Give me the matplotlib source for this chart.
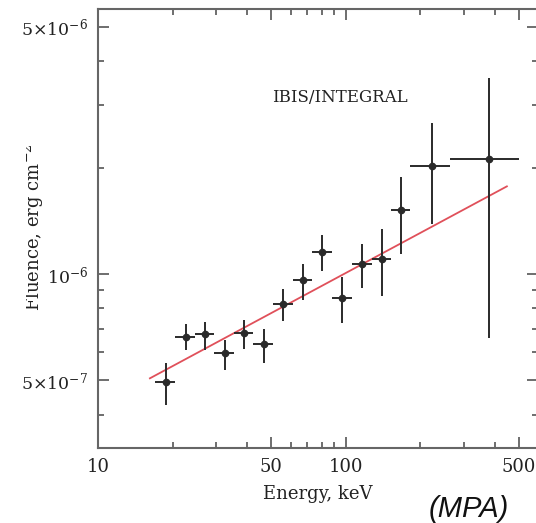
import matplotlib
matplotlib.use("Agg")
import matplotlib.pyplot as plt
from matplotlib.ticker import FixedLocator, FixedFormatter, NullFormatter
from matplotlib.patches import Rectangle
import numpy as np

# ---- data ----
energy = [18.8, 22.6, 27.0, 32.6, 38.9, 46.8, 56.0, 67.1, 80.5, 96.6, 116.0, 139.8, 167.2, 222.4, 380.0]
e_lo = [17.0, 20.5, 24.6, 29.5, 35.5, 42.3, 51.0, 61.0, 73.0, 88.0, 105.7, 127.4, 152.0, 182.0, 264.0]
e_hi = [20.5, 24.6, 29.5, 35.5, 42.3, 51.0, 61.0, 73.0, 88.0, 105.7, 127.4, 152.0, 182.0, 264.0, 502.0]
fluence = [4.94e-7, 6.65e-7, 6.76e-7, 5.96e-7, 6.79e-7, 6.34e-7, 8.22e-7, 9.60e-7, 1.156e-6,
           8.54e-7, 1.067e-6, 1.105e-6, 1.518e-6, 2.021e-6, 2.120e-6]
f_up = [5.59e-7, 7.22e-7, 7.33e-7, 6.50e-7, 7.41e-7, 6.97e-7, 9.05e-7, 1.067e-6, 1.289e-6,
        9.79e-7, 1.216e-6, 1.338e-6, 1.886e-6, 2.670e-6, 3.594e-6]
f_lo = [4.26e-7, 6.09e-7, 6.09e-7, 5.35e-7, 6.12e-7, 5.61e-7, 7.38e-7, 8.44e-7, 1.022e-6,
        7.28e-7, 9.11e-7, 8.66e-7, 1.139e-6, 1.385e-6, 6.58e-7]
fit_energy = [16.2, 447.0]
fit_fluence = [5.07e-7, 1.77e-6]

x_major = [10, 50, 100, 500]
x_major_labels = ["10", "50", "100", "500"]
x_minor = [20, 30, 40, 60, 70, 80, 90, 200, 300, 400]
y_major = [5e-7, 1e-6, 5e-6]
y_major_labels = [r"$5{\times}10^{-7}$", r"$10^{-6}$", r"$5{\times}10^{-6}$"]
y_minor = [4e-7, 6e-7, 7e-7, 8e-7, 9e-7, 2e-6, 3e-6, 4e-6]

plt.rcParams["mathtext.fontset"] = "dejavuserif"
plt.rcParams["font.family"] = ["DejaVu Serif"]

fig = plt.figure(figsize=(5.36, 5.23), dpi=100)
fig.patch.set_facecolor("white")
ax = fig.add_axes([98 / 536, 1 - 448 / 523, 440 / 536, 439 / 523])

ax.set_xscale("log")
ax.set_yscale("log")
ax.set_xlim(10, 597)
ax.set_ylim(3.22e-7, 5.62e-6)

energy_a = np.array(energy)
flu_a = np.array(fluence)
xerr = [energy_a - np.array(e_lo), np.array(e_hi) - energy_a]
yerr = [flu_a - np.array(f_lo), np.array(f_up) - flu_a]

ax.plot(fit_energy, fit_fluence, color="#e0505a", lw=1.3, zorder=3)
ax.errorbar(energy, fluence, xerr=xerr, yerr=yerr, fmt="o", color="#2a2a2a",
            ms=4.5, elinewidth=1.4, capsize=0, zorder=4)

ax.xaxis.set_major_locator(FixedLocator(x_major))
ax.xaxis.set_major_formatter(FixedFormatter(x_major_labels))
ax.xaxis.set_minor_locator(FixedLocator(x_minor))
ax.xaxis.set_minor_formatter(NullFormatter())
ax.yaxis.set_major_locator(FixedLocator(y_major))
ax.yaxis.set_major_formatter(FixedFormatter(y_major_labels))
ax.yaxis.set_minor_locator(FixedLocator(y_minor))
ax.yaxis.set_minor_formatter(NullFormatter())

ax.tick_params(which="both", direction="in", top=True, right=True, color="#555555", width=1.2)
ax.tick_params(which="major", length=8, labelsize=13, pad=7, labelcolor="#222222")
ax.tick_params(axis="y", which="major", labelsize=12.5)
ax.tick_params(which="minor", length=4.5)
for s in ax.spines.values():
    s.set_color("#666666")
    s.set_linewidth(1.5)

fig.text(318 / 536, 1 - 494 / 523, "Energy, keV", fontsize=13, color="#222222",
         ha="center", va="center")

fig.text(272 / 536, 1 - 97 / 523, "IBIS/INTEGRAL", fontsize=12, color="#222222",
         va="center", ha="left")

fig.text(33 / 536, 1 - 227 / 523, r"Fluence, erg cm$^{-2}$", rotation=90, fontsize=13,
         ha="center", va="center", color="#222222")
# the reference crops the top of the y-axis title
fig.add_artist(Rectangle((0, 1 - 330 / 523), 26 / 536, 200 / 523, transform=fig.transFigure,
                         facecolor="white", edgecolor="none", zorder=10))

fig.text(469 / 536, 1 - 509 / 523, "(MPA)", fontsize=21, style="italic",
         family=["Liberation Sans", "DejaVu Sans"], ha="center", va="center", color="#111111")

fig.savefig("out.png", dpi=100, facecolor="white")
